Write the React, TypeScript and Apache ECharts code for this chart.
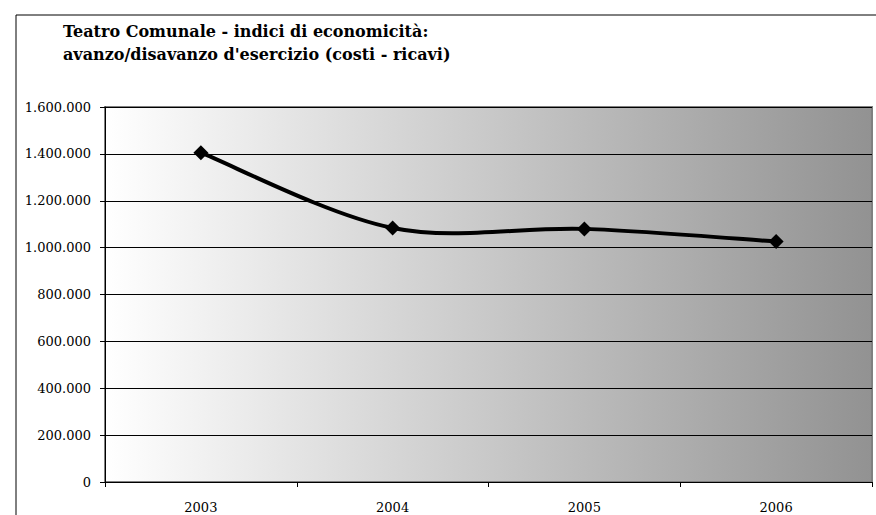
import React, { useEffect, useRef } from "react";
import * as echarts from "echarts";

const years = ["2003", "2004", "2005", "2006"];
const avanzo = [1405000, 1084000, 1080000, 1026000];
const yTicks = { min: 0, max: 1600000, interval: 200000 };

const fmt = (v: number) =>
  String(Math.round(v)).replace(/\B(?=(\d{3})+(?!\d))/g, ".");

export default function App() {
  const ref = useRef<HTMLDivElement>(null);
  useEffect(() => {
    document.body.style.margin = "0";
    const chart = echarts.init(ref.current!, null, { renderer: "svg" });
    const serif = "DejaVu Serif";
    const n = avanzo.length;
    chart.setOption({
      animation: false,
      backgroundColor: "#ffffff",
      textStyle: { fontFamily: serif },
      title: {
        text: "Teatro Comunale - indici di economicità:\navanzo/disavanzo d'esercizio (costi - ricavi)",
        left: 58,
        top: 15,
        textStyle: {
          fontFamily: serif,
          fontSize: 16,
          fontWeight: "bold",
          color: "#000",
          lineHeight: 23,
        },
      },
      graphic: [
        {
          type: "rect",
          shape: { x: 16, y: 15, width: 900, height: 600 },
          style: { fill: "none", stroke: "#000", lineWidth: 1 },
          silent: true,
          z: -1,
        },
      ],
      grid: {
        left: 105,
        right: 4,
        top: 107,
        bottom: 33,
        show: true,
        borderColor: "#808080",
        borderWidth: 2,
        backgroundColor: new echarts.graphic.LinearGradient(0, 0, 1, 0, [
          { offset: 0, color: "#ffffff" },
          { offset: 1, color: "#929292" },
        ]),
      },
      xAxis: {
        type: "category",
        data: years,
        boundaryGap: true,
        axisLine: { show: true, lineStyle: { color: "#000", width: 1 } },
        axisTick: { show: true, inside: false, length: 5, lineStyle: { color: "#000" } },
        axisLabel: { color: "#000", fontFamily: serif, fontSize: 13, margin: 19 },
        splitLine: { show: false },
      },
      yAxis: {
        type: "value",
        min: yTicks.min,
        max: yTicks.max,
        interval: yTicks.interval,
        axisLine: { show: true, lineStyle: { color: "#000", width: 1 } },
        axisTick: { show: true, length: 5, lineStyle: { color: "#000" } },
        axisLabel: {
          color: "#000",
          fontFamily: serif,
          fontSize: 13,
          margin: 14,
          formatter: (v: number) => fmt(v),
        },
        splitLine: { show: true, lineStyle: { color: "#000", width: 1 } },
      },
      series: [
        {
          type: "custom",
          data: avanzo.map((v, i) => [i, v]),
          encode: { x: 0, y: 1 },
          z: 2,
          renderItem: (params: any, api: any) => {
            const i = params.dataIndex;
            if (i >= n - 1) return null;
            const p = (k: number) => {
              const kk = Math.max(0, Math.min(n - 1, k));
              return api.coord([kk, avanzo[kk]]);
            };
            const p0 = p(i - 1);
            const p1 = p(i);
            const p2 = p(i + 1);
            const p3 = p(i + 2);
            const t = 1 / 6;
            return {
              type: "bezierCurve",
              shape: {
                x1: p1[0],
                y1: p1[1],
                cpx1: p1[0] + (p2[0] - p0[0]) * t,
                cpy1: p1[1] + (p2[1] - p0[1]) * t,
                cpx2: p2[0] - (p3[0] - p1[0]) * t,
                cpy2: p2[1] - (p3[1] - p1[1]) * t,
                x2: p2[0],
                y2: p2[1],
              },
              style: { stroke: "#000", lineWidth: 4, fill: null, lineCap: "round" },
            };
          },
        },
        {
          type: "scatter",
          data: avanzo,
          z: 3,
          symbol: "diamond",
          symbolSize: 15,
          itemStyle: { color: "#000", opacity: 1 },
        },
      ],
    });
    return () => chart.dispose();
  }, []);
  return (
    <div
      ref={ref}
      style={{ position: "absolute", left: 0, top: 0, width: 876, height: 515 }}
    />
  );
}
